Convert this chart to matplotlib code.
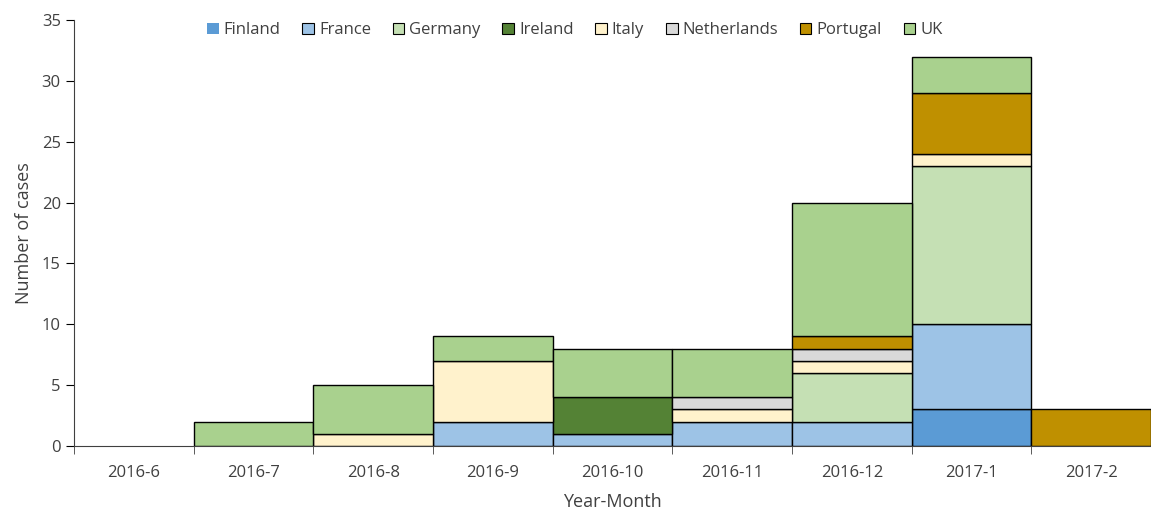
import numpy as np
import matplotlib.pyplot as plt
from matplotlib.patches import Patch

months = ['2016-6', '2016-7', '2016-8', '2016-9', '2016-10', '2016-11', '2016-12', '2017-1', '2017-2']
finland = [0, 0, 0, 0, 0, 0, 0, 3, 0]
france = [0, 0, 0, 2, 1, 2, 2, 7, 0]
germany = [0, 0, 0, 0, 0, 0, 4, 13, 0]
ireland = [0, 0, 0, 0, 3, 0, 0, 0, 0]
italy = [0, 0, 1, 5, 0, 1, 1, 1, 0]
netherlands = [0, 0, 0, 0, 0, 1, 1, 0, 0]
portugal = [0, 0, 0, 0, 0, 0, 1, 5, 3]
uk = [0, 2, 4, 2, 4, 4, 11, 3, 0]

series = [('Finland', finland, '#5B9BD5'),
          ('France', france, '#9DC3E6'),
          ('Germany', germany, '#C5E0B4'),
          ('Ireland', ireland, '#548235'),
          ('Italy', italy, '#FFF2CC'),
          ('Netherlands', netherlands, '#D9D9D9'),
          ('Portugal', portugal, '#BF9000'),
          ('UK', uk, '#A9D18E')]

plt.rcParams['font.family'] = ['Open Sans', 'DejaVu Sans']
fig = plt.figure(figsize=(11.51, 5.13), dpi=100)
ax = fig.add_axes([74 / 1151, 1 - 446 / 513, 1 - 74 / 1151, (446 - 20) / 513])

x = np.arange(len(months))
bottom = np.zeros(len(months))
for name, vals, color in series:
    vals = np.array(vals, dtype=float)
    mask = vals > 0
    ax.bar(x[mask], vals[mask], width=1.0, bottom=bottom[mask], color=color,
           edgecolor='black', linewidth=1.0)
    bottom += vals

# each month ~121 px wide, last bar runs off the right edge
ax.set_xlim(-0.5, -0.5 + (1151 - 74) / 121.0)
ax.set_ylim(0, 35)
ax.set_yticks(range(0, 36, 5))
ax.set_xticks(x)
ax.set_xticklabels(months)
ax.set_xticks(list(np.arange(len(months)) + 0.5) + [-0.5], minor=True)
ax.tick_params(axis='x', which='major', length=0, labelsize=12, colors='#404040', pad=14)
ax.tick_params(axis='x', which='minor', length=6, color='#404040', direction='out')
ax.tick_params(axis='y', length=6, labelsize=12, colors='#404040', direction='out')
ax.tick_params(axis='y', color='black')
for s in ['top', 'right']:
    ax.spines[s].set_visible(False)
ax.spines['left'].set_color('#404040')
ax.spines['bottom'].set_color('#404040')

ax.set_ylabel('Number of cases', fontsize=13, color='#404040', labelpad=6)
ax.set_xlabel('Year-Month', fontsize=13, color='#404040', labelpad=8)

handles = []
for name, vals, color in series:
    ec = 'none' if name == 'Finland' else 'black'
    handles.append(Patch(facecolor=color, edgecolor=ec, linewidth=0.8, label=name))
ax.legend(handles=handles, ncol=8, loc='upper center', bbox_to_anchor=(0.465, 1.03),
          frameon=False, fontsize=12, handlelength=0.7, handleheight=0.7,
          handletextpad=0.3, columnspacing=1.3, labelcolor='#404040')

fig.savefig('out.png', dpi=100)
